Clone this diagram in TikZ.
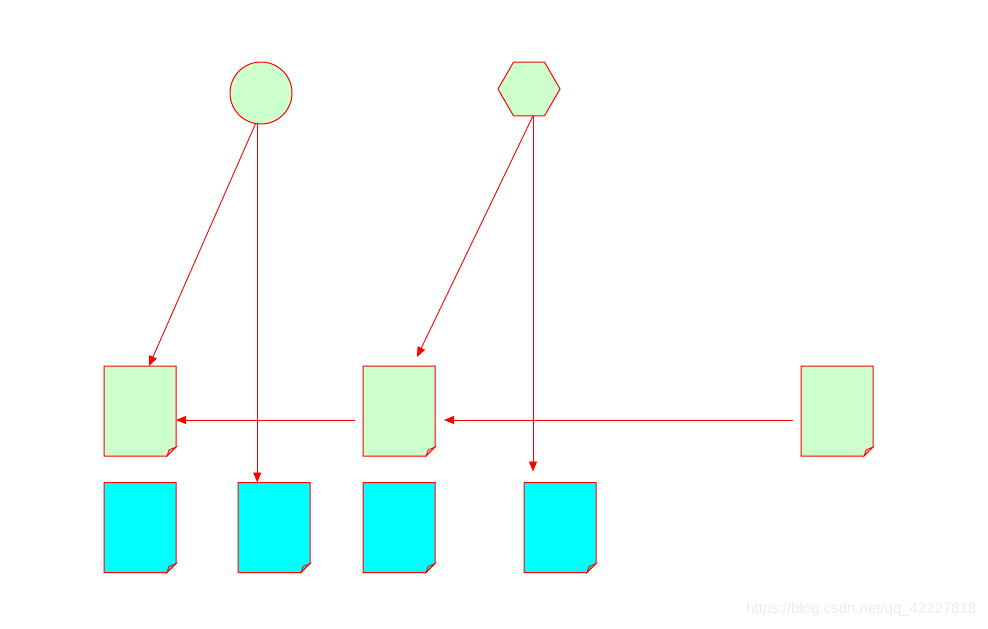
\documentclass[tikz,border=0pt]{standalone}
\usepackage{fontspec}
\setmainfont{Liberation Sans}
\usetikzlibrary{arrows.meta,shapes.geometric}
\definecolor{lgreen}{HTML}{CCFFCC}
\definecolor{cyanf}{HTML}{00FFFF}
\tikzset{
  outl/.style={draw=red, line width=1pt},
  docnode/.style={minimum width=72pt, minimum height=90pt, inner sep=0pt, outer sep=0pt},
  arr/.style={draw=red, line width=0.9pt, -{Triangle[length=10pt,width=8pt]}},
  mark text/.style={text=gray!15, font=\fontsize{15}{15}\selectfont}
}
\newcommand{\mydoc}[2]{%
  \filldraw[outl, fill=#2] (#1.north west) -- (#1.north east) -- ([yshift=9pt]#1.south east)
    -- ([xshift=-9pt]#1.south east) -- (#1.south west) -- cycle;
  \filldraw[draw=red, line width=0.8pt, fill=#2!70!gray] ([yshift=9pt]#1.south east)
    -- ([xshift=-9pt]#1.south east) -- ([shift={(-7pt,6pt)}]#1.south east) -- cycle;
}
\begin{document}
\begin{tikzpicture}[x=1pt,y=-1pt]
\useasboundingbox (0,0) rectangle (988,629);
% top shapes
\node[circle, outl, fill=lgreen, minimum size=62pt, inner sep=0pt, outer sep=0pt] (circ) at (261,93) {};
\node[regular polygon, regular polygon sides=6, outl, fill=lgreen, minimum size=62pt, inner sep=0pt, outer sep=0pt] (hex) at (529,89) {};
% documents
\node[docnode] (g1) at (140,411) {};
\node[docnode] (g2) at (399,411) {};
\node[docnode] (g3) at (837,411) {};
\node[docnode] (c1) at (140,527.5) {};
\node[docnode] (c2) at (274,527.5) {};
\node[docnode] (c3) at (399,527.5) {};
\node[docnode] (c4) at (560,527.5) {};
\mydoc{g1}{lgreen}
\mydoc{g2}{lgreen}
\mydoc{g3}{lgreen}
\mydoc{c1}{cyanf}
\mydoc{c2}{cyanf}
\mydoc{c3}{cyanf}
\mydoc{c4}{cyanf}
% free ends
\coordinate (hs) at ([xshift=4pt]hex.south);
\coordinate (e2) at ([shift={(18pt,9pt)}]g2.north);
\coordinate (e4) at ([yshift=11pt]hs |- c4.north);
% connectors
\draw[arr] (circ.260) -- ([xshift=9pt]g1.north);
\draw[arr] (circ.263) -- (circ.263 |- c2.north);
\draw[arr] (hs) -- (e2);
\draw[arr] (hs) -- (e4);
\draw[arr] ([shift={(-8pt,-9pt)}]g2.west) -- ([yshift=-9pt]g1.east);
\draw[arr] ([shift={(-8pt,-9pt)}]g3.west) -- ([shift={(9pt,-9pt)}]g2.east);
% watermark
\node[mark text, anchor=east] (wm) at (980,610) {https://blog.csdn.net/qq\_42227818};
\end{tikzpicture}
\end{document}
